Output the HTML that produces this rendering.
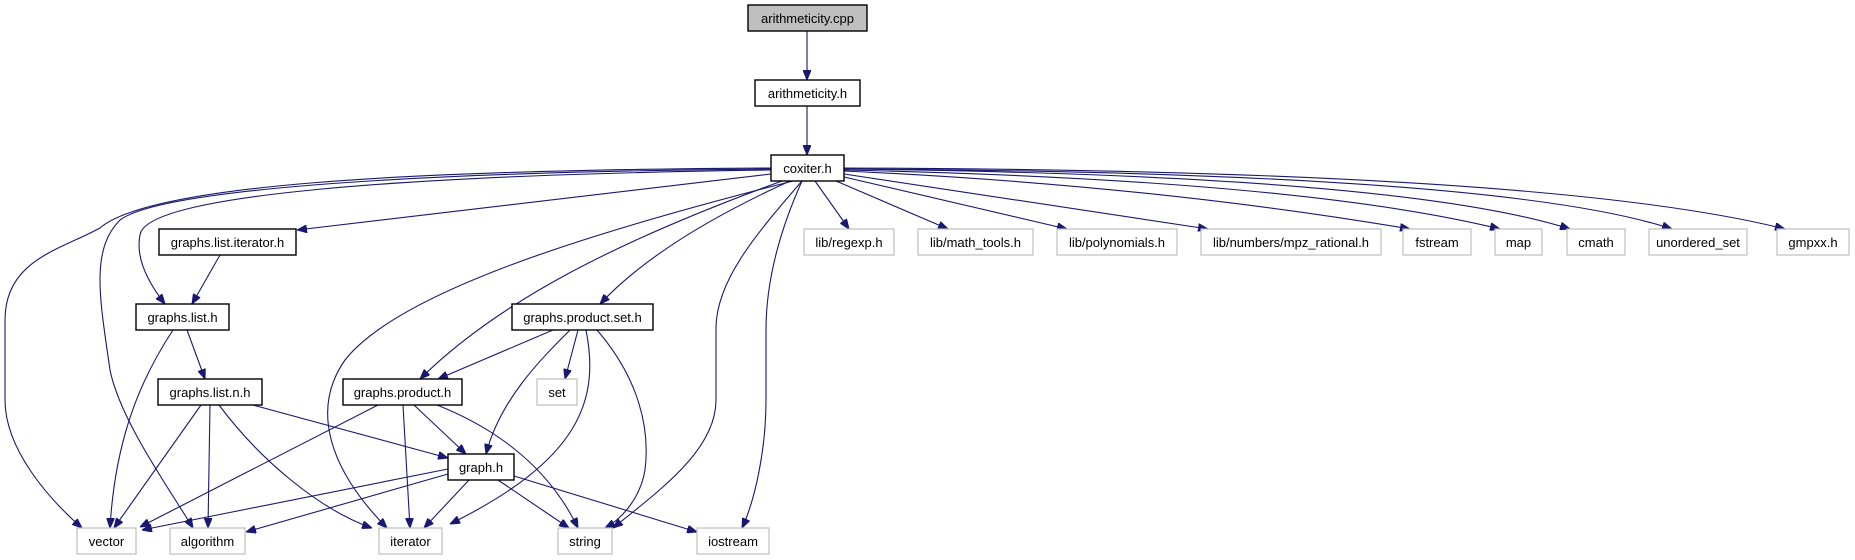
<!DOCTYPE html>
<html><head><meta charset="utf-8"><style>
html,body{margin:0;padding:0;background:#fff;}
svg{display:block;}
text{font-family:"Liberation Sans",sans-serif;font-size:13px;fill:#000;text-anchor:middle;}
.n{fill:#fff;stroke:#000;stroke-width:1.4;}
.g{fill:#fff;stroke:#bfbfbf;stroke-width:1.2;}
.e{fill:none;stroke:#191970;stroke-width:1.1;}
</style></head><body>
<svg width="1855" height="560" viewBox="0 0 1855 560">
<defs><marker id="a" viewBox="0 0 10 8" refX="10" refY="4" markerWidth="10" markerHeight="8" markerUnits="userSpaceOnUse" orient="auto"><path d="M0,0L10,4L0,8z" fill="#191970" stroke="#191970"/></marker></defs>
<g class="e" marker-end="url(#a)">
<path d="M807,31L807,80"/>
<path d="M807,106L807,155"/>
<path d="M815,181L849,229"/>
<path d="M836,181L948,229"/>
<path d="M844,177L1067,229"/>
<path d="M844,174L1208,229"/>
<path d="M844,171Q1150,185 1410,229"/>
<path d="M844,170Q1300,180 1500,229"/>
<path d="M844,169Q1400,175 1570,229"/>
<path d="M844,169Q1500,172 1672,229"/>
<path d="M844,168Q1550,170 1785,229"/>
<path d="M790,181Q660,240 600,304"/>
<path d="M782,181C620,240 500,300 420,379"/>
<path d="M771,174L297,230"/>
<path d="M771,170C400,175 145,195 140,235C135,260 150,285 165,304"/>
<path d="M771,168C400,170 150,185 100,228C60,250 5,260 5,320L5,400C5,450 50,500 82,528"/>
<path d="M771,169C400,172 160,190 120,220C90,250 100,300 110,370C120,420 170,490 193,528"/>
<path d="M793,181C600,230 400,290 345,360C310,410 330,470 387,528"/>
<path d="M802,181C760,230 715,280 716,330L716,400C716,450 660,490 613,528"/>
<path d="M802,181C780,230 766,280 766,330L766,400C766,450 755,500 742,528"/>
<path d="M220,255L192,304"/>
<path d="M173,330C140,380 115,440 110,528"/>
<path d="M187,330L205,379"/>
<path d="M201,405L114,528"/>
<path d="M210,405L208,528"/>
<path d="M219,405C260,460 320,510 372,528"/>
<path d="M253,405L448,458"/>
<path d="M378,405L140,527"/>
<path d="M403,405L410,528"/>
<path d="M414,405L466,454"/>
<path d="M437,405C500,430 550,470 578,528"/>
<path d="M553,330L438,379"/>
<path d="M570,330C540,360 500,400 486,454"/>
<path d="M578,330L565,379"/>
<path d="M586,330C600,400 580,460 450,524"/>
<path d="M597,330C640,380 650,430 645,470C640,500 620,520 605,528"/>
<path d="M448,469L142,530"/>
<path d="M448,474L246,532"/>
<path d="M469,480L424,528"/>
<path d="M498,480L569,528"/>
<path d="M514,476L697,532"/>
</g>
<rect x="748" y="5" width="119" height="26" fill="#bfbfbf" stroke="#000" stroke-width="1.4"/>
<text x="807.5" y="23">arithmeticity.cpp</text>
<rect class="n" x="755" y="80" width="105" height="26"/><text x="807.5" y="98">arithmeticity.h</text>
<rect class="n" x="771" y="155" width="73" height="26"/><text x="807.5" y="173">coxiter.h</text>
<rect class="g" x="804" y="229" width="90" height="26"/><text x="849" y="247">lib/regexp.h</text>
<rect class="g" x="918" y="229" width="115" height="26"/><text x="975.5" y="247">lib/math_tools.h</text>
<rect class="g" x="1057" y="229" width="120" height="26"/><text x="1117" y="247">lib/polynomials.h</text>
<rect class="g" x="1201" y="229" width="180" height="26"/><text x="1291" y="247">lib/numbers/mpz_rational.h</text>
<rect class="g" x="1403" y="229" width="68" height="26"/><text x="1437" y="247">fstream</text>
<rect class="g" x="1495" y="229" width="47" height="26"/><text x="1518.5" y="247">map</text>
<rect class="g" x="1567" y="229" width="58" height="26"/><text x="1596" y="247">cmath</text>
<rect class="g" x="1649" y="229" width="98" height="26"/><text x="1698" y="247">unordered_set</text>
<rect class="g" x="1777" y="229" width="72" height="26"/><text x="1813" y="247">gmpxx.h</text>
<rect class="n" x="159" y="229" width="137" height="26"/><text x="227.5" y="247">graphs.list.iterator.h</text>
<rect class="n" x="136" y="304" width="93" height="26"/><text x="182.5" y="322">graphs.list.h</text>
<rect class="n" x="512" y="304" width="141" height="26"/><text x="582.5" y="322">graphs.product.set.h</text>
<rect class="n" x="158" y="379" width="104" height="26"/><text x="210" y="397">graphs.list.n.h</text>
<rect class="n" x="343" y="379" width="119" height="26"/><text x="402.5" y="397">graphs.product.h</text>
<rect class="g" x="537" y="379" width="40" height="26"/><text x="557" y="397">set</text>
<rect class="n" x="448" y="454" width="66" height="26"/><text x="481" y="472">graph.h</text>
<rect class="g" x="77" y="528" width="59" height="26"/><text x="106.5" y="546">vector</text>
<rect class="g" x="170" y="528" width="75" height="26"/><text x="207.5" y="546">algorithm</text>
<rect class="g" x="379" y="528" width="63" height="26"/><text x="410.5" y="546">iterator</text>
<rect class="g" x="558" y="528" width="54" height="26"/><text x="585" y="546">string</text>
<rect class="g" x="697" y="528" width="72" height="26"/><text x="733" y="546">iostream</text>
</svg>
</body></html>
